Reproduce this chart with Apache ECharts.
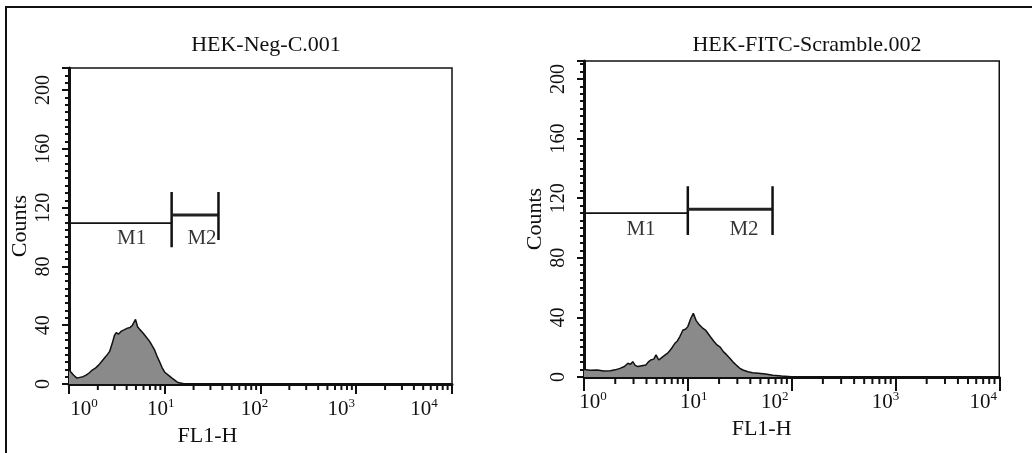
<!DOCTYPE html>
<html>
<head>
<meta charset="utf-8">
<script src="https://cdn.jsdelivr.net/npm/echarts@6/dist/echarts.min.js"></script>
<style>
  html, body { margin: 0; padding: 0; background: #fff; }
  #main { width: 1032px; height: 453px; }
</style>
</head>
<body>
<div id="main"></div>
<script>
// histogram channels (FL1-H) and counts
const negX = [1.0, 1.05, 1.12, 1.21, 1.3, 1.4, 1.51, 1.62, 1.75, 1.9, 2.05, 2.17, 2.3, 2.51, 2.65, 2.84, 2.98, 3.12, 3.3, 3.53, 3.8, 4.08, 4.35, 4.6, 4.8, 4.95, 5.2, 5.5, 5.87, 6.4, 6.95, 7.4, 7.85, 8.3, 8.86, 9.4, 10, 10.9, 11.9, 12.8, 13.7, 15, 16.2, 10000];
const negY = [10, 8, 6, 4, 4.5, 5, 6, 7.5, 9.5, 11, 13, 15, 17, 20, 22, 28, 33, 35, 34, 36, 37, 38, 38.5, 40, 41, 44, 39, 37, 35, 32, 29, 26, 23, 19, 15, 11, 8, 6, 4, 2.5, 1, 0.5, 0, 0];

const scrX = [1.0, 1.15, 1.34, 1.55, 1.79, 2.0, 2.22, 2.45, 2.65, 2.8, 2.95, 3.1, 3.29, 3.6, 3.94, 4.15, 4.39, 4.7, 4.94, 5.25, 5.6, 6.06, 6.4, 6.75, 7.1, 7.51, 7.9, 8.36, 8.98, 9.5, 10, 10.7, 11.3, 12.0, 12.9, 13.8, 14.8, 16.5, 17.8, 19.1, 20.5, 22, 23.6, 25.4, 27.3, 29.3, 31.5, 33.9, 38, 42, 48, 56, 66, 80, 107, 10000];
const scrY = [5, 4.5, 4.7, 4, 4.2, 4.8, 5.8, 7, 9.2, 8.5, 10.3, 8, 7, 7.5, 8, 10, 11.4, 12, 14.8, 11.4, 13, 14.8, 16, 18, 20, 22.6, 24, 27, 31.5, 32, 33.8, 39.4, 42.7, 38, 35, 33, 31.5, 27, 24, 21.5, 20, 17, 15, 12.5, 10, 8, 6, 4.7, 3.5, 2.9, 2.5, 2, 1.2, 0.7, 0, 0];

// markers M1 / M2: edges on FL1-H, level in counts, end bar span
const gateNames = ['M1', 'M2'];
const negGateEdges = [1, 11.8, 36.4];
const negGateLevels = [109.5, 115];
const negGateBars = [[93, 130.6], [98, 130.6]];
const negGateLabelX = [4.5, 24.5];
const scrGateEdges = [1, 10, 65.5];
const scrGateLevels = [110, 112.5];
const scrGateBars = [[95.3, 128], [95.3, 128]];
const scrGateLabelX = [3.54, 34.8];
const gateLabelY = 99;

const titles = ['HEK-Neg-C.001', 'HEK-FITC-Scramble.002'];
const minorTickVals = [];
[1, 10, 100, 1000].forEach(d => { for (let k = 2; k <= 9; k++) minorTickVals.push(k * d); });

const FONT = 'Liberation Serif';
const INK = '#111';

const chart = echarts.init(document.getElementById('main'));

function xLabelRich(shifts) {
  const rich = {};
  shifts.forEach((s, e) => {
    rich['b' + e] = { fontFamily: FONT, fontSize: 21, color: INK, lineHeight: 24, padding: [0, 0, 0, s > 0 ? 2 * s : 0] };
    rich['s' + e] = { fontFamily: FONT, fontSize: 13, color: INK, lineHeight: 13, verticalAlign: 'top', padding: [0, s < 0 ? -2 * s : 0, 0, 0] };
  });
  return rich;
}

function xAxisCfg(i, shifts, nameShift, tickLen) {
  return {
    type: 'log', logBase: 10, min: 1, max: 10000, gridIndex: i,
    axisLine: { lineStyle: { color: INK, width: 3 } },
    axisTick: { length: tickLen, lineStyle: { color: INK, width: 2 } },
    splitLine: { show: false },
    axisLabel: {
      margin: 13,
      formatter: v => { const e = Math.round(Math.log10(v)); return '{b' + e + '|10}{s' + e + '|' + e + '}'; },
      rich: xLabelRich(shifts)
    },
    name: 'FL1-H', nameLocation: 'middle', nameGap: 41,
    nameTextStyle: { fontFamily: FONT, fontSize: 22, color: INK, padding: [0, nameShift, 0, 0] }
  };
}

function yAxisCfg(i, max) {
  return {
    type: 'value', min: 0, max: max, interval: 40, gridIndex: i,
    axisLine: { show: true, lineStyle: { color: INK, width: 3 } },
    axisTick: { show: true, length: 7, lineStyle: { color: INK, width: 2 } },
    minorTick: { show: true, splitNumber: 8, length: 4, lineStyle: { color: INK, width: 2 } },
    splitLine: { show: false },
    axisLabel: { rotate: 90, margin: 15, fontFamily: FONT, fontSize: 20, color: INK, showMaxLabel: false },
    name: 'Counts', nameLocation: 'middle', nameRotate: 90, nameGap: 38,
    nameTextStyle: { fontFamily: FONT, fontSize: 22, color: INK }
  };
}

function panelSeries(i, hx, hy, edges, levels, bars, labelX, minorLen) {
  const s = [];
  s.push({
    type: 'line', xAxisIndex: i, yAxisIndex: i, symbol: 'none',
    data: hx.map((x, k) => [x, hy[k]]),
    lineStyle: { color: INK, width: 1.5 },
    areaStyle: { color: '#8a8a8a', opacity: 1 },
    z: 3
  });
  gateNames.forEach((n, g) => {
    s.push({
      type: 'line', xAxisIndex: i, yAxisIndex: i, symbol: 'none',
      data: [[edges[g], levels[g]], [edges[g + 1], levels[g]]],
      lineStyle: { color: g === 0 ? INK : '#222', width: g === 0 ? 1.8 : 3 }, z: 4
    });
    s.push({
      type: 'line', xAxisIndex: i, yAxisIndex: i, symbol: 'none',
      data: [[edges[g + 1], bars[g][0]], [edges[g + 1], bars[g][1]]],
      lineStyle: { color: INK, width: 2.5 }, z: 4
    });
  });
  s.push({
    type: 'scatter', xAxisIndex: i, yAxisIndex: i, symbolSize: 1,
    itemStyle: { color: 'rgba(0,0,0,0)' },
    data: gateNames.map((n, g) => ({ name: n, value: [labelX[g], gateLabelY] })),
    label: { show: true, position: 'inside', formatter: '{b}', fontFamily: FONT, fontSize: 21, color: '#000', textBorderWidth: 0 },
    z: 5
  });
  // log minor ticks under the FL1-H axis
  s.push({
    type: 'custom', xAxisIndex: i, yAxisIndex: i,
    data: minorTickVals.map(v => [v, 0]),
    renderItem: (params, api) => {
      const p = api.coord([api.value(0), 0]);
      return { type: 'line', shape: { x1: p[0], y1: p[1], x2: p[0], y2: p[1] + minorLen }, style: { stroke: INK, lineWidth: 2 } };
    },
    z: 2
  });
  return s;
}

const option = {
  backgroundColor: '#fff',
  animation: false,
  title: [
    { text: titles[0], left: 261, top: 29, textAlign: 'center', textStyle: { fontFamily: FONT, fontSize: 22, fontWeight: 'normal', color: INK } },
    { text: titles[1], left: 802, top: 29, textAlign: 'center', textStyle: { fontFamily: FONT, fontSize: 22, fontWeight: 'normal', color: INK } }
  ],
  grid: [
    { left: 69, top: 68, right: 580, bottom: 69, show: true, borderColor: INK, borderWidth: 1.5 },
    { left: 584, top: 61, right: 19, bottom: 76, show: true, borderColor: INK, borderWidth: 1.5 }
  ],
  xAxis: [
    xAxisCfg(0, [15, -4, -6, -15, -28], 106, 10),
    xAxisCfg(1, [9, 6, -17, -10, -16], 60, 14)
  ],
  yAxis: [yAxisCfg(0, 215), yAxisCfg(1, 212)],
  series: [].concat(
    panelSeries(0, negX, negY, negGateEdges, negGateLevels, negGateBars, negGateLabelX, 6),
    panelSeries(1, scrX, scrY, scrGateEdges, scrGateLevels, scrGateBars, scrGateLabelX, 7)
  ),
  graphic: [
    { type: 'polyline', shape: { points: [[6, 453], [6, 7], [1032, 7]] }, style: { stroke: INK, lineWidth: 2, fill: null } }
  ]
};

chart.setOption(option);
</script>
</body>
</html>
